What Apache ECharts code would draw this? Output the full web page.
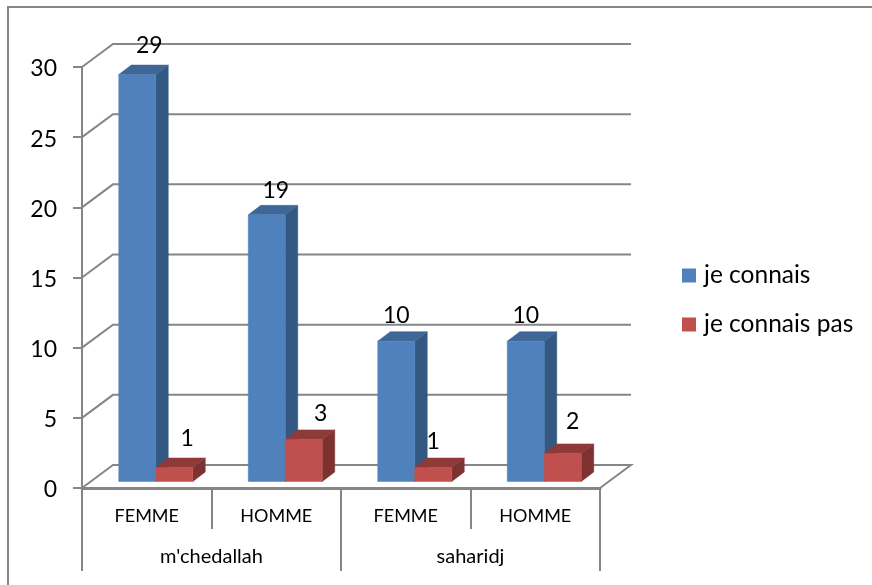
<!DOCTYPE html>
<html>
<head>
<meta charset="utf-8">
<style>
  html, body { margin: 0; padding: 0; background: #fff; }
  #chart { width: 872px; height: 585px; }
</style>
<script src="https://cdn.jsdelivr.net/npm/echarts@6/dist/echarts.min.js"></script>
</head>
<body>
<div id="chart"></div>
<script>
// Awareness survey, split by town and by sex.
const sexes = ['FEMME', 'HOMME', 'FEMME', 'HOMME'];
const towns = ["m'chedallah", 'saharidj'];
const jeConnais = [29, 19, 10, 10];
const jeConnaisPas = [1, 3, 1, 2];
const valueTicks = [0, 5, 10, 15, 20, 25, 30];

const FONT = 'Lato, "Open Sans", sans-serif';
const LINE = '#868686';

// Oblique projection used for the wall, the floor and the bars.
const WALL = { dx: 31, dy: -23 };
const BAR_PLANE = { dx: 9, dy: -6.5 };
const BAR_DEPTH = { dx: 12.5, dy: -9.5 };
const BAR_RATIO = 2 / 7;

// Hand-placed data labels: shift from the centre of each bar's top edge.
const labelShift = {
  blue: [[12, -29], [9, -24], [0, -26], [0, -26]],
  red: [[13, -29], [17, -26], [0, -26], [10, -32]]
};

const faces = {
  blue: { front: '#4F81BD', side: '#335881', top: '#3E6797' },
  red: { front: '#C0504D', side: '#7D3231', top: '#8E3A38' }
};

function poly(points, fill) {
  return { type: 'polygon', shape: { points }, style: { fill, stroke: fill, lineWidth: 0.5 } };
}

// One extruded column: front face, side face, top face and its value label.
function prismSeries(name, values, tone, sideIndex) {
  const c = faces[tone];
  return {
    name,
    type: 'custom',
    xAxisIndex: 0,
    yAxisIndex: 0,
    z: 3,
    clip: false,
    itemStyle: { color: c.front },
    data: values.map((v, i) => [i, v]),
    renderItem(params, api) {
      const i = api.value(0);
      const v = api.value(1);
      const base = api.coord([i, 0]);
      const head = api.coord([i, v]);
      const w = api.size([1, 0])[0] * BAR_RATIO;
      const x0 = base[0] + BAR_PLANE.dx + (sideIndex - 1) * w;
      const x1 = x0 + w;
      const yb = base[1] + BAR_PLANE.dy;
      const yt = head[1] + BAR_PLANE.dy;
      const d = BAR_DEPTH;
      const nudge = labelShift[tone][params.dataIndex];
      return {
        type: 'group',
        children: [
          poly([[x1, yb], [x1 + d.dx, yb + d.dy], [x1 + d.dx, yt + d.dy], [x1, yt]], c.side),
          poly([[x0, yt], [x1, yt], [x1 + d.dx, yt + d.dy], [x0 + d.dx, yt + d.dy]], c.top),
          poly([[x0, yb], [x1, yb], [x1, yt], [x0, yt]], api.visual('color')),
          {
            type: 'text',
            z2: 10,
            style: {
              x: (x0 + x1) / 2 + nudge[0],
              y: yt + nudge[1],
              text: String(v),
              font: '23px ' + FONT,
              fill: '#000',
              align: 'center',
              verticalAlign: 'middle'
            }
          }
        ]
      };
    }
  };
}

// Back wall and side wall lines, one per value tick, plus the floor's right edge.
const wallSeries = {
  type: 'custom',
  xAxisIndex: 0,
  yAxisIndex: 0,
  z: 1,
  clip: false,
  silent: true,
  data: valueTicks.map(v => [0, v]),
  renderItem(params, api) {
    const left = params.coordSys.x;
    const right = left + params.coordSys.width;
    const y = api.coord([0, api.value(1)])[1];
    const stroke = { stroke: LINE, lineWidth: 2, fill: 'none' };
    const pts = [[left, y], [left + WALL.dx, y + WALL.dy], [right + WALL.dx, y + WALL.dy]];
    if (api.value(1) === 0) pts.push([right, y]);
    return { type: 'polyline', shape: { points: pts }, style: stroke };
  }
};

const axisStroke = { color: LINE, width: 2 };

const option = {
  animation: false,
  backgroundColor: '#fff',
  textStyle: { fontFamily: FONT },
  // The chart area's outline only shows along its top and left edges.
  graphic: [{
    type: 'polyline',
    silent: true,
    z: 0,
    shape: { points: [[8, 585], [8, 7], [872, 7]] },
    style: { fill: 'none', stroke: LINE, lineWidth: 2 }
  }],
  legend: {
    orient: 'vertical',
    left: 682,
    top: 263,
    padding: 0,
    icon: 'rect',
    itemWidth: 14,
    itemHeight: 14,
    itemGap: 24,
    data: ['je connais', 'je connais pas'],
    textStyle: { fontFamily: FONT, fontSize: 24.5, color: '#000', padding: [2, 0, 0, 3] }
  },
  grid: { left: 82, top: 67, width: 518, height: 421, containLabel: false },
  xAxis: [
    {
      type: 'category',
      data: sexes,
      position: 'bottom',
      axisLine: { lineStyle: { color: LINE, width: 3 } },
      axisTick: { show: true, length: 41, lineStyle: axisStroke },
      axisLabel: { color: '#000', fontSize: 18, fontFamily: FONT, margin: 19 }
    },
    {
      type: 'category',
      data: towns,
      position: 'bottom',
      offset: 41,
      axisLine: { show: false },
      axisTick: { show: true, length: 42, lineStyle: axisStroke },
      axisLabel: { color: '#000', fontSize: 20, fontFamily: FONT, margin: 18 }
    }
  ],
  yAxis: {
    type: 'value',
    min: 0,
    max: 30,
    interval: 5,
    splitLine: { show: false },
    axisLine: { show: true, lineStyle: axisStroke },
    axisTick: { show: true, length: 9, lineStyle: axisStroke },
    axisLabel: {
      margin: 25,
      formatter: '{n|{value}}',
      rich: { n: { color: '#000', fontSize: 23, fontFamily: FONT, padding: [4, 0, 0, 0] } }
    }
  },
  series: [
    wallSeries,
    prismSeries('je connais', jeConnais, 'blue', 0),
    prismSeries('je connais pas', jeConnaisPas, 'red', 1)
  ]
};

echarts.init(document.getElementById('chart')).setOption(option);
</script>
</body>
</html>
